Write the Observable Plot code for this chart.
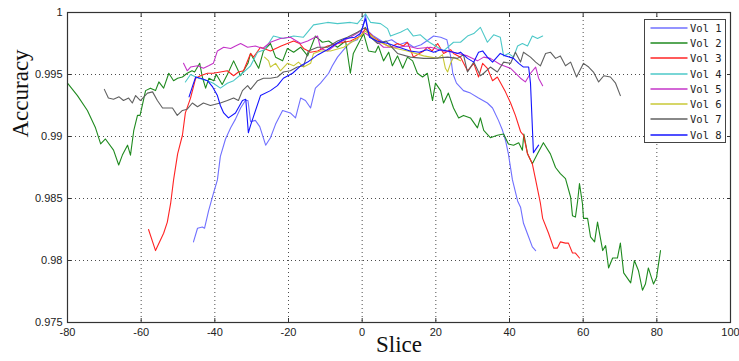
<!DOCTYPE html>
<html>
<head>
<meta charset="utf-8">
<script src="https://cdn.jsdelivr.net/npm/d3@7"></script>
<script src="https://cdn.jsdelivr.net/npm/@observablehq/plot@0.6"></script>
<style>
  body { margin: 0; background: #fff; }
  #wrap { position: relative; width: 739px; height: 361px; }
  #legend { position: absolute; left: 644px; top: 19px; width: 82px; box-sizing: border-box;
            border: 1.5px solid #444; background: #fff; }
  .row { height: 15.3px; display: flex; align-items: center; }
  .row svg { flex: none; }
  .row span { font-family: "DejaVu Sans Mono", monospace; font-size: 10.5px; color: #222; margin-left: 2px; white-space: pre; }
</style>
</head>
<body>
<div id="wrap"></div>
<script>
const seriesNames = ["Vol 1","Vol 2","Vol 3","Vol 4","Vol 5","Vol 6","Vol 7","Vol 8"];
const seriesColors = ["#7070ff","#1f8a1f","#ff2424","#4cc8c8","#c434c8","#c8c836","#606060","#1414ff"];
const xTicks = [-80,-60,-40,-20,0,20,40,60,80,100];
const yTicks = [0.975,0.98,0.985,0.99,0.995,1];

// [slice, accuracy]
const vol1 = [[-45.8,0.9815],[-44.7,0.9826],[-43.4,0.9827],[-42.8,0.9826],[-41.7,0.9840],[-40.4,0.9854],[-39.3,0.9865],[-38.5,0.9884],[-37.1,0.9898],[-35.7,0.9907],[-34.4,0.9914],[-33,0.9923],[-31.7,0.9929],[-31,0.9929],[-30.3,0.9912],[-29,0.9913],[-27.8,0.9908],[-26.2,0.9893],[-24.9,0.9899],[-23.5,0.9910],[-21.6,0.9921],[-19.5,0.9919],[-18.1,0.9915],[-16.7,0.9931],[-15.4,0.9929],[-14,0.9923],[-12.7,0.9939],[-11.3,0.9943],[-9.1,0.9951],[-8.1,0.9957],[-6.7,0.9964],[-5,0.9970],[-3.2,0.9976],[-1.3,0.9978],[0.1,0.9987],[0.9,0.9998],[1.6,0.9985],[3.1,0.9981],[5.8,0.9976],[8,0.9978],[10,0.9974],[12,0.9976],[14,0.9972],[16,0.9974],[18,0.9978],[19.4,0.9981],[21.3,0.9980],[23,0.9978],[24,0.9965],[24.6,0.9951],[25.6,0.9943],[27.5,0.9937],[29.4,0.9935],[31.6,0.9931],[34,0.9927],[35.4,0.9923],[37,0.9913],[38.1,0.9905],[38.9,0.9897],[39.7,0.9886],[40.8,0.9865],[42.2,0.9848],[43,0.9843],[43.8,0.9830],[45.2,0.9819],[46.2,0.9811],[47.1,0.9808]];
const vol2 = [[-80,0.9943],[-77.3,0.9933],[-74.6,0.9921],[-72.4,0.9907],[-71,0.9894],[-69.7,0.9898],[-67.5,0.9889],[-66.1,0.9877],[-65.1,0.9885],[-63.7,0.9893],[-62.9,0.9885],[-62,0.9905],[-61,0.9917],[-60.3,0.9917],[-58.8,0.9937],[-57.5,0.9939],[-56.1,0.9937],[-55.2,0.9944],[-53.9,0.9939],[-52.5,0.9951],[-51.2,0.9945],[-50.1,0.9947],[-48.8,0.9948],[-47.5,0.9951],[-46.2,0.9953],[-45.5,0.9952],[-44.1,0.9959],[-43.4,0.9948],[-42.5,0.9939],[-41.6,0.9947],[-40.3,0.9945],[-39.6,0.9950],[-38,0.9942],[-36.6,0.9950],[-34.9,0.9961],[-33,0.9949],[-31,0.9959],[-30.3,0.9967],[-28.1,0.9955],[-26.8,0.9969],[-24.9,0.9975],[-23.5,0.9964],[-21.6,0.9961],[-20.3,0.9971],[-18.6,0.9968],[-16.7,0.9972],[-14.8,0.9965],[-12.7,0.9981],[-10.8,0.9976],[-9.1,0.9977],[-6.7,0.9972],[-4.5,0.9977],[-3.2,0.9951],[-2.4,0.9967],[-1,0.9975],[0.4,0.9983],[1.7,0.9969],[3.6,0.9968],[4.4,0.9973],[5.8,0.9961],[7.2,0.9968],[8.2,0.9957],[9.6,0.9965],[11,0.9955],[12.3,0.9964],[13.7,0.9961],[15,0.9951],[16.4,0.9948],[17.7,0.9951],[19.1,0.9929],[19.9,0.9943],[21.3,0.9937],[22.1,0.9927],[23.4,0.9935],[24.8,0.9923],[26.2,0.9915],[27.5,0.9917],[29.4,0.9915],[31.3,0.9907],[32.1,0.9915],[33,0.9905],[34.8,0.9899],[36.7,0.9901],[38.4,0.9902],[39.7,0.9894],[41.1,0.9893],[42.5,0.9895],[43.5,0.9889],[43.9,0.9902],[44.9,0.9886],[46.2,0.9878],[47.6,0.9886],[49.2,0.9895],[51.1,0.9886],[52.5,0.9875],[53.8,0.9870],[55.2,0.9866],[56.6,0.9851],[57.1,0.9836],[57.9,0.9835],[58.5,0.9848],[59,0.9862],[59.8,0.9846],[60.1,0.9834],[61.2,0.9834],[62,0.9819],[63.1,0.9815],[63.9,0.9831],[65.3,0.9808],[66.1,0.9812],[66.9,0.9794],[68,0.9802],[69.3,0.9802],[70.1,0.9814],[71,0.9790],[72.9,0.9782],[73.9,0.9800],[75,0.9792],[76.1,0.9776],[76.9,0.9781],[77.7,0.9794],[79.1,0.9781],[79.9,0.9786],[81,0.9808]];
const vol3 = [[-58,0.9825],[-56.1,0.9808],[-53.9,0.9822],[-52.9,0.9831],[-52,0.9846],[-51.2,0.9865],[-50.1,0.9886],[-48.8,0.9901],[-48,0.9919],[-46.6,0.9931],[-45.2,0.9947],[-43.9,0.9949],[-42,0.9951],[-40.4,0.9951],[-38.5,0.9952],[-36.6,0.9953],[-34.9,0.9949],[-33.6,0.9952],[-32.2,0.9953],[-30.3,0.9967],[-29.5,0.9964],[-27.6,0.9972],[-24.9,0.9969],[-22,0.9973],[-18.6,0.9977],[-17,0.9975],[-15.9,0.9971],[-14,0.9968],[-12.1,0.9969],[-9.4,0.9973],[-6.7,0.9975],[-3.2,0.9977],[-0.4,0.9981],[0.9,0.9987],[3.1,0.9980],[5.8,0.9975],[7.7,0.9972],[9.6,0.9975],[11.2,0.9973],[12.3,0.9976],[13.9,0.9964],[16.7,0.9969],[17.7,0.9972],[19,0.9969],[20.5,0.9975],[22.1,0.9967],[24,0.9970],[24.8,0.9967],[26.7,0.9964],[28.6,0.9953],[30.3,0.9959],[31.6,0.9948],[32.7,0.9959],[34,0.9955],[35.4,0.9945],[36.7,0.9948],[38.9,0.9936],[40.3,0.9927],[41.6,0.9917],[43,0.9904],[43.8,0.9901],[44.9,0.9886],[46.2,0.9878],[47.1,0.9865],[48.4,0.9846],[49,0.9834],[50.6,0.9822],[52,0.9810],[53,0.9810],[53.8,0.9815],[55.2,0.9814],[56,0.9814],[57.1,0.9806],[57.9,0.9806],[59,0.9802]];
const vol4 = [[-48,0.9944],[-46.6,0.9950],[-44.4,0.9947],[-42,0.9945],[-40.4,0.9943],[-38.5,0.9939],[-36.6,0.9943],[-34.9,0.9945],[-32.5,0.9951],[-30.3,0.9957],[-28.4,0.9968],[-26.5,0.9970],[-24.1,0.9981],[-21.4,0.9979],[-18.6,0.9981],[-16,0.9980],[-13.2,0.9990],[-9.4,0.9992],[-6.7,0.9991],[-3.2,0.9992],[-1.3,0.9991],[0.9,0.9999],[2.3,0.9992],[5,0.9991],[6.9,0.9987],[7.7,0.9981],[10.4,0.9984],[12.3,0.9987],[13.9,0.9981],[15.8,0.9982],[17.7,0.9977],[19.9,0.9973],[22.1,0.9969],[24.8,0.9976],[26.7,0.9976],[28.6,0.9981],[30.3,0.9983],[32.1,0.9988],[34,0.9976],[35.7,0.9982],[37.5,0.9980],[38.4,0.9965],[39.7,0.9967],[41.1,0.9964],[42.2,0.9973],[43.5,0.9975],[44.9,0.9973],[46.2,0.9981],[47.6,0.9979],[49,0.9981]];
const vol5 = [[-48.5,0.9959],[-47.5,0.9953],[-46.6,0.9956],[-44.7,0.9957],[-43.1,0.9955],[-41.7,0.9957],[-40.4,0.9959],[-39.3,0.9969],[-37.6,0.9972],[-35.7,0.9971],[-34.4,0.9973],[-33,0.9975],[-31.1,0.9972],[-29,0.9973],[-27,0.9971],[-24.9,0.9976],[-22.2,0.9979],[-19.5,0.9980],[-16.7,0.9975],[-14.8,0.9977],[-12.1,0.9981],[-11.3,0.9971],[-9.4,0.9969],[-6.7,0.9975],[-3.2,0.9980],[-0.4,0.9985],[0.9,0.9983],[3.1,0.9979],[5.8,0.9972],[9.6,0.9972],[12.3,0.9973],[15,0.9971],[18.6,0.9972],[22.1,0.9969],[24.8,0.9968],[28.6,0.9965],[31.3,0.9961],[33,0.9964],[34.8,0.9963],[37.5,0.9958],[40.3,0.9955],[43,0.9947],[44.3,0.9944],[45.7,0.9951],[47.1,0.9956],[47.9,0.9947],[49,0.9941]];
const vol6 = [[-26.5,0.9964],[-25.4,0.9961],[-24.9,0.9956],[-23.5,0.9959],[-22.2,0.9953],[-20.3,0.9959],[-18.6,0.9957],[-17.3,0.9960],[-15.9,0.9956],[-14,0.9959],[-13.2,0.9967],[-11.3,0.9969],[-8.6,0.9969],[-5,0.9972],[-1.3,0.9979],[0.9,0.9985],[4.2,0.9977],[7.7,0.9972],[12.3,0.9969],[16.7,0.9965],[20.5,0.9963],[21.8,0.9966],[22.6,0.9955],[23.2,0.9952],[24,0.9959],[24.8,0.9964],[26.7,0.9961]];
const vol7 = [[-70,0.9938],[-68.9,0.9931],[-67.5,0.9930],[-66,0.9932],[-64.8,0.9929],[-63.4,0.9931],[-62.4,0.9927],[-61.5,0.9933],[-60.2,0.9929],[-58.3,0.9935],[-56.9,0.9936],[-55.6,0.9929],[-54.2,0.9923],[-52.9,0.9923],[-51.5,0.9923],[-50.2,0.9917],[-48.8,0.9921],[-47.5,0.9922],[-46.1,0.9927],[-44.7,0.9924],[-43.1,0.9927],[-41.2,0.9925],[-38.5,0.9927],[-36.6,0.9929],[-34.9,0.9931],[-33.6,0.9929],[-32.5,0.9937],[-31.1,0.9941],[-30.3,0.9938],[-28.4,0.9945],[-26.8,0.9947],[-24.9,0.9947],[-23,0.9948],[-21.4,0.9952],[-19.5,0.9953],[-17.6,0.9956],[-15.9,0.9957],[-14.6,0.9969],[-12.1,0.9972],[-9.4,0.9972],[-6.7,0.9977],[-4,0.9980],[-1.3,0.9984],[0.9,0.9988],[2.3,0.9980],[4.2,0.9975],[6.5,0.9977],[9.6,0.9967],[13.1,0.9964],[16.7,0.9963],[19.4,0.9963],[23.2,0.9964],[25.9,0.9963],[27.5,0.9966],[28.6,0.9952],[30.3,0.9960],[32.1,0.9949],[33,0.9951],[34.8,0.9956],[36.7,0.9952],[38.4,0.9960],[40.3,0.9959],[41.6,0.9968],[43,0.9960],[43.8,0.9968],[45.7,0.9964],[47.1,0.9960],[48.4,0.9957],[49.8,0.9967],[51.1,0.9968],[52.5,0.9963],[53.8,0.9965],[55.2,0.9957],[56.6,0.9960],[58.2,0.9948],[60.1,0.9959],[61.5,0.9956],[62.8,0.9952],[64.2,0.9944],[65.6,0.9949],[67.4,0.9948],[68.8,0.9943],[70.1,0.9933]];
const vol8 = [[-47,0.9932],[-46,0.9941],[-45.2,0.9948],[-43.9,0.9947],[-42,0.9945],[-40.6,0.9940],[-39.3,0.9933],[-38.5,0.9925],[-37.6,0.9919],[-36.3,0.9915],[-34.4,0.9919],[-32.5,0.9929],[-31.6,0.9930],[-30.9,0.9903],[-30.3,0.9909],[-27.6,0.9933],[-24.9,0.9937],[-23,0.9941],[-21.4,0.9947],[-18.9,0.9951],[-16.7,0.9957],[-14.8,0.9960],[-12,0.9966],[-9.5,0.9970],[-7,0.9975],[-4.5,0.9979],[-2,0.9980],[-0.5,0.9983],[0.9,0.9995],[2,0.9980],[4,0.9977],[7,0.9975],[10,0.9972],[13,0.9969],[15.5,0.9968],[17.5,0.9970],[19.4,0.9968],[21.3,0.9970],[23.2,0.9969],[24.8,0.9968],[25.9,0.9967],[26.7,0.9968],[28.6,0.9963],[30.3,0.9960],[31.6,0.9968],[32.7,0.9969],[34,0.9964],[35.4,0.9960],[37.5,0.9967],[38.9,0.9965],[41.1,0.9963],[42.5,0.9959],[43.8,0.9956],[45.2,0.9956],[45.7,0.9943],[46.5,0.9887],[47.9,0.9893]];

const vols = [vol1, vol2, vol3, vol4, vol5, vol6, vol7, vol8];
const data = vols.flatMap((arr, i) => arr.map(([slice, acc]) => ({slice, acc, vol: seriesNames[i]})));

const fmtY = d => String(+d.toFixed(3));
const fmtX = d => String(d);
const blank = () => "";

const chart = Plot.plot({
  width: 739,
  height: 361,
  marginLeft: 67,
  marginRight: 9,
  marginTop: 12,
  marginBottom: 39,
  style: {fontFamily: "'Liberation Sans', sans-serif", fontSize: "11px", color: "#222", background: "#fff"},
  x: {domain: [-80, 100], ticks: xTicks},
  y: {domain: [0.975, 1], ticks: yTicks},
  color: {domain: seriesNames, range: seriesColors},
  marks: [
    Plot.gridX(xTicks, {stroke: "#000", strokeOpacity: 0.7, strokeDasharray: "1,3"}),
    Plot.gridY(yTicks, {stroke: "#000", strokeOpacity: 0.7, strokeDasharray: "1,3"}),
    Plot.line(data, {x: "slice", y: "acc", z: "vol", stroke: "vol", strokeWidth: 1.1}),
    Plot.frame({stroke: "#333", strokeWidth: 1.2}),
    Plot.axisX(xTicks, {anchor: "bottom", tickSize: -4, tickFormat: blank, label: null, stroke: "#333"}),
    Plot.axisX(xTicks, {anchor: "top", tickSize: -4, tickFormat: blank, label: null, stroke: "#333"}),
    Plot.axisY(yTicks, {anchor: "left", tickSize: -4, tickFormat: blank, label: null, stroke: "#333"}),
    Plot.axisY(yTicks, {anchor: "right", tickSize: -4, tickFormat: blank, label: null, stroke: "#333"}),
    Plot.axisX(xTicks, {anchor: "bottom", tickSize: 0, tickPadding: 6, tickFormat: fmtX, label: null, fontSize: 11}),
    Plot.axisY(yTicks, {anchor: "left", tickSize: 0, tickPadding: 5, tickFormat: fmtY, label: null, fontSize: 11}),
    Plot.text(["Accuracy"], {frameAnchor: "left", rotate: -90, dx: -47, dy: -30, fontFamily: "'Liberation Serif', serif", fontSize: 23, fill: "#111"}),
    Plot.text(["Slice"], {frameAnchor: "bottom", dy: 29, fontFamily: "'Liberation Serif', serif", fontSize: 23, fill: "#111"})
  ]
});

const wrap = document.getElementById("wrap");
wrap.appendChild(chart);

const legend = document.createElement("div");
legend.id = "legend";
seriesNames.forEach((name, i) => {
  const row = document.createElement("div");
  row.className = "row";
  row.innerHTML = `<svg width="43" height="10"><line x1="5.5" x2="42.5" y1="5" y2="5" stroke="${seriesColors[i]}" stroke-width="1.3"/></svg><span>${name}</span>`;
  legend.appendChild(row);
});
wrap.appendChild(legend);
</script>
</body>
</html>
